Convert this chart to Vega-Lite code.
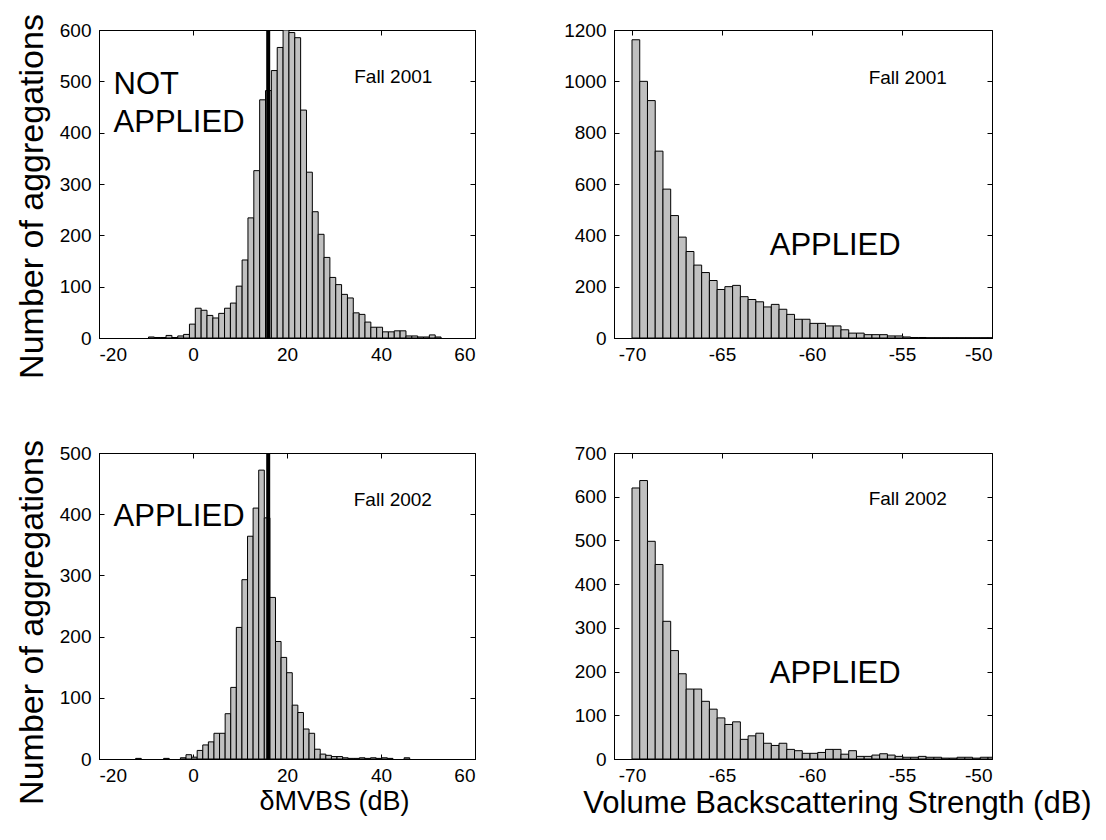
{
"$schema": "https://vega.github.io/schema/vega-lite/v6.json",
"background": "white",
"padding": {"left": 14, "top": 13, "right": 5, "bottom": 5},
"bounds": "flush",
"columns": 2,
"spacing": {"row": 115, "column": 139},
"config": {
  "font": "Liberation Sans",
  "view": {"stroke": "black", "strokeWidth": 1},
  "axis": {"labelFont": "Liberation Sans", "labelFontSize": 19, "labelColor": "black", "titleFont": "Liberation Sans", "titleFontSize": 34, "titleFontWeight": "normal", "titleColor": "black", "domainColor": "black", "tickColor": "black", "tickSize": -5, "grid": false},
  "axisX": {"labelPadding": 12},
  "axisY": {"labelPadding": 13}
},
"datasets": {
  "tl": [
    {"lo": -9.47, "hi": -8.225, "count": 2}, {"lo": -8.225, "hi": -6.98, "count": 1}, {"lo": -6.98, "hi": -5.735, "count": 1}, {"lo": -5.735, "hi": -4.49, "count": 5}, {"lo": -4.49, "hi": -3.245, "count": 1}, {"lo": -3.245, "hi": -2.0, "count": 4}, {"lo": -2.0, "hi": -0.755, "count": 7}, {"lo": -0.755, "hi": 0.49, "count": 27},
    {"lo": 0.49, "hi": 1.735, "count": 58}, {"lo": 1.735, "hi": 2.98, "count": 54}, {"lo": 2.98, "hi": 4.225, "count": 44}, {"lo": 4.225, "hi": 5.47, "count": 39}, {"lo": 5.47, "hi": 6.715, "count": 48}, {"lo": 6.715, "hi": 7.96, "count": 58}, {"lo": 7.96, "hi": 9.205, "count": 68}, {"lo": 9.205, "hi": 10.45, "count": 101},
    {"lo": 10.45, "hi": 11.695, "count": 152}, {"lo": 11.695, "hi": 12.94, "count": 234}, {"lo": 12.94, "hi": 14.185, "count": 326}, {"lo": 14.185, "hi": 15.43, "count": 464}, {"lo": 15.43, "hi": 16.675, "count": 482}, {"lo": 16.675, "hi": 17.92, "count": 521}, {"lo": 17.92, "hi": 19.165, "count": 566}, {"lo": 19.165, "hi": 20.41, "count": 600},
    {"lo": 20.41, "hi": 21.655, "count": 595}, {"lo": 21.655, "hi": 22.9, "count": 585}, {"lo": 22.9, "hi": 24.145, "count": 444}, {"lo": 24.145, "hi": 25.39, "count": 323}, {"lo": 25.39, "hi": 26.635, "count": 246}, {"lo": 26.635, "hi": 27.88, "count": 202}, {"lo": 27.88, "hi": 29.125, "count": 157}, {"lo": 29.125, "hi": 30.37, "count": 118},
    {"lo": 30.37, "hi": 31.615, "count": 104}, {"lo": 31.615, "hi": 32.86, "count": 85}, {"lo": 32.86, "hi": 34.105, "count": 78}, {"lo": 34.105, "hi": 35.35, "count": 49}, {"lo": 35.35, "hi": 36.595, "count": 46}, {"lo": 36.595, "hi": 37.84, "count": 31}, {"lo": 37.84, "hi": 39.085, "count": 21}, {"lo": 39.085, "hi": 40.33, "count": 21},
    {"lo": 40.33, "hi": 41.575, "count": 12}, {"lo": 41.575, "hi": 42.82, "count": 12}, {"lo": 42.82, "hi": 44.065, "count": 14}, {"lo": 44.065, "hi": 45.31, "count": 14}, {"lo": 45.31, "hi": 46.555, "count": 4}, {"lo": 46.555, "hi": 47.8, "count": 4}, {"lo": 47.8, "hi": 49.045, "count": 2}, {"lo": 49.045, "hi": 50.29, "count": 2},
    {"lo": 50.29, "hi": 51.535, "count": 6}, {"lo": 51.535, "hi": 52.78, "count": 2}
  ],
  "tr": [
    {"lo": -70, "hi": -69.57, "count": 1162}, {"lo": -69.57, "hi": -69.14, "count": 1000}, {"lo": -69.14, "hi": -68.71, "count": 925}, {"lo": -68.71, "hi": -68.28, "count": 728}, {"lo": -68.28, "hi": -67.85, "count": 580}, {"lo": -67.85, "hi": -67.42, "count": 477}, {"lo": -67.42, "hi": -66.99, "count": 393}, {"lo": -66.99, "hi": -66.56, "count": 337},
    {"lo": -66.56, "hi": -66.13, "count": 284}, {"lo": -66.13, "hi": -65.7, "count": 255}, {"lo": -65.7, "hi": -65.27, "count": 224}, {"lo": -65.27, "hi": -64.84, "count": 189}, {"lo": -64.84, "hi": -64.41, "count": 200}, {"lo": -64.41, "hi": -63.98, "count": 205}, {"lo": -63.98, "hi": -63.55, "count": 161}, {"lo": -63.55, "hi": -63.12, "count": 150},
    {"lo": -63.12, "hi": -62.69, "count": 141}, {"lo": -62.69, "hi": -62.26, "count": 121}, {"lo": -62.26, "hi": -61.83, "count": 131}, {"lo": -61.83, "hi": -61.4, "count": 112}, {"lo": -61.4, "hi": -60.97, "count": 92}, {"lo": -60.97, "hi": -60.54, "count": 73}, {"lo": -60.54, "hi": -60.11, "count": 73}, {"lo": -60.11, "hi": -59.68, "count": 57},
    {"lo": -59.68, "hi": -59.25, "count": 57}, {"lo": -59.25, "hi": -58.82, "count": 47}, {"lo": -58.82, "hi": -58.39, "count": 47}, {"lo": -58.39, "hi": -57.96, "count": 32}, {"lo": -57.96, "hi": -57.53, "count": 19}, {"lo": -57.53, "hi": -57.1, "count": 19}, {"lo": -57.1, "hi": -56.67, "count": 13}, {"lo": -56.67, "hi": -56.24, "count": 13},
    {"lo": -56.24, "hi": -55.81, "count": 13}, {"lo": -55.81, "hi": -55.38, "count": 8}, {"lo": -55.38, "hi": -54.95, "count": 8}, {"lo": -54.95, "hi": -54.52, "count": 4}, {"lo": -54.52, "hi": -54.09, "count": 2}, {"lo": -54.09, "hi": -53.66, "count": 2}, {"lo": -53.66, "hi": -53.23, "count": 1}, {"lo": -53.23, "hi": -52.8, "count": 1},
    {"lo": -52.8, "hi": -52.37, "count": 1}, {"lo": -52.37, "hi": -51.94, "count": 1}, {"lo": -51.94, "hi": -51.51, "count": 1}, {"lo": -51.51, "hi": -51.08, "count": 1}, {"lo": -51.08, "hi": -50.65, "count": 1}, {"lo": -50.65, "hi": -50.22, "count": 1}, {"lo": -50.22, "hi": -49.79, "count": 1}
  ],
  "bl": [
    {"lo": -12.2, "hi": -11.01, "count": 1}, {"lo": -6.25, "hi": -5.06, "count": 1}, {"lo": -2.68, "hi": -1.49, "count": 2},
    {"lo": -1.49, "hi": -0.3, "count": 7}, {"lo": -0.3, "hi": 0.89, "count": 3}, {"lo": 0.89, "hi": 2.08, "count": 14}, {"lo": 2.08, "hi": 3.27, "count": 23}, {"lo": 3.27, "hi": 4.46, "count": 28}, {"lo": 4.46, "hi": 5.65, "count": 42}, {"lo": 5.65, "hi": 6.84, "count": 42}, {"lo": 6.84, "hi": 8.03, "count": 74},
    {"lo": 8.03, "hi": 9.22, "count": 117}, {"lo": 9.22, "hi": 10.41, "count": 215}, {"lo": 10.41, "hi": 11.6, "count": 293}, {"lo": 11.6, "hi": 12.79, "count": 364}, {"lo": 12.79, "hi": 13.98, "count": 410}, {"lo": 13.98, "hi": 15.17, "count": 472}, {"lo": 15.17, "hi": 16.36, "count": 394}, {"lo": 16.36, "hi": 17.55, "count": 264},
    {"lo": 17.55, "hi": 18.74, "count": 192}, {"lo": 18.74, "hi": 19.93, "count": 166}, {"lo": 19.93, "hi": 21.12, "count": 141}, {"lo": 21.12, "hi": 22.31, "count": 88}, {"lo": 22.31, "hi": 23.5, "count": 76}, {"lo": 23.5, "hi": 24.69, "count": 49}, {"lo": 24.69, "hi": 25.88, "count": 42}, {"lo": 25.88, "hi": 27.07, "count": 16},
    {"lo": 27.07, "hi": 28.26, "count": 8}, {"lo": 28.26, "hi": 29.45, "count": 6}, {"lo": 29.45, "hi": 30.64, "count": 4}, {"lo": 30.64, "hi": 31.83, "count": 4}, {"lo": 31.83, "hi": 33.02, "count": 2}, {"lo": 33.02, "hi": 34.21, "count": 1}, {"lo": 34.21, "hi": 35.4, "count": 1}, {"lo": 35.4, "hi": 36.59, "count": 2},
    {"lo": 36.59, "hi": 37.78, "count": 1}, {"lo": 37.78, "hi": 38.97, "count": 2}, {"lo": 38.97, "hi": 40.16, "count": 1}, {"lo": 40.16, "hi": 41.35, "count": 2}, {"lo": 41.35, "hi": 42.54, "count": 1}, {"lo": 44.92, "hi": 46.11, "count": 2}
  ],
  "br": [
    {"lo": -70, "hi": -69.57, "count": 620}, {"lo": -69.57, "hi": -69.14, "count": 637}, {"lo": -69.14, "hi": -68.71, "count": 498}, {"lo": -68.71, "hi": -68.28, "count": 445}, {"lo": -68.28, "hi": -67.85, "count": 315}, {"lo": -67.85, "hi": -67.42, "count": 248}, {"lo": -67.42, "hi": -66.99, "count": 195}, {"lo": -66.99, "hi": -66.56, "count": 160},
    {"lo": -66.56, "hi": -66.13, "count": 160}, {"lo": -66.13, "hi": -65.7, "count": 132}, {"lo": -65.7, "hi": -65.27, "count": 114}, {"lo": -65.27, "hi": -64.84, "count": 94}, {"lo": -64.84, "hi": -64.41, "count": 79}, {"lo": -64.41, "hi": -63.98, "count": 85}, {"lo": -63.98, "hi": -63.55, "count": 45}, {"lo": -63.55, "hi": -63.12, "count": 53},
    {"lo": -63.12, "hi": -62.69, "count": 59}, {"lo": -62.69, "hi": -62.26, "count": 36}, {"lo": -62.26, "hi": -61.83, "count": 31}, {"lo": -61.83, "hi": -61.4, "count": 36}, {"lo": -61.4, "hi": -60.97, "count": 22}, {"lo": -60.97, "hi": -60.54, "count": 19}, {"lo": -60.54, "hi": -60.11, "count": 13}, {"lo": -60.11, "hi": -59.68, "count": 13},
    {"lo": -59.68, "hi": -59.25, "count": 15}, {"lo": -59.25, "hi": -58.82, "count": 22}, {"lo": -58.82, "hi": -58.39, "count": 22}, {"lo": -58.39, "hi": -57.96, "count": 11}, {"lo": -57.96, "hi": -57.53, "count": 19}, {"lo": -57.53, "hi": -57.1, "count": 6}, {"lo": -57.1, "hi": -56.67, "count": 6}, {"lo": -56.67, "hi": -56.24, "count": 9},
    {"lo": -56.24, "hi": -55.81, "count": 12}, {"lo": -55.81, "hi": -55.38, "count": 9}, {"lo": -55.38, "hi": -54.95, "count": 6}, {"lo": -54.95, "hi": -54.52, "count": 4}, {"lo": -54.52, "hi": -54.09, "count": 4}, {"lo": -54.09, "hi": -53.66, "count": 6}, {"lo": -53.66, "hi": -53.23, "count": 4}, {"lo": -53.23, "hi": -52.8, "count": 4},
    {"lo": -52.8, "hi": -52.37, "count": 2}, {"lo": -52.37, "hi": -51.94, "count": 2}, {"lo": -51.94, "hi": -51.51, "count": 4}, {"lo": -51.51, "hi": -51.08, "count": 4}, {"lo": -51.08, "hi": -50.65, "count": 2}, {"lo": -50.65, "hi": -50.22, "count": 4}, {"lo": -50.22, "hi": -49.79, "count": 4}
  ]
},
"concat": [
  {
    "width": 376, "height": 308,
    "resolve": {"axis": {"x": "independent", "y": "independent"}},
    "layer": [
      {"data": {"name": "tl"}, "mark": {"type": "bar", "fill": "#c0c0c0", "stroke": "black", "strokeWidth": 1, "clip": true},
       "encoding": {
         "x": {"field": "lo", "type": "quantitative", "scale": {"domain": [-20, 60], "nice": false, "zero": false}, "axis": {"orient": "bottom", "values": [-20, 0, 20, 40, 60], "labelExpr": "'' + datum.value", "title": null}},
         "x2": {"field": "hi"},
         "y": {"field": "count", "type": "quantitative", "scale": {"domain": [0, 600], "nice": false}, "axis": {"orient": "left", "values": [0, 100, 200, 300, 400, 500, 600], "labelExpr": "'' + datum.value", "title": "Number of aggregations", "titleX": -67, "titleY": 166, "titleBaseline": "middle"}},
         "y2": {"datum": 0}
       }},
      {"data": {"values": [{"v": 16}]}, "mark": {"type": "rule", "color": "black", "strokeWidth": 4},
       "encoding": {"x": {"field": "v", "type": "quantitative", "axis": null}}},
      {"data": {"values": [{"tx": 34.3, "ty": 508, "label": "Fall 2001"}]}, "mark": {"type": "text", "align": "left", "baseline": "middle", "fontSize": 19, "color": "black"},
       "encoding": {
         "x": {"field": "tx", "type": "quantitative", "axis": {"orient": "top", "labels": false, "title": null, "domain": false, "values": [-20, 0, 20, 40, 60]}},
         "y": {"field": "ty", "type": "quantitative", "axis": {"orient": "right", "labels": false, "title": null, "domain": false, "values": [0, 100, 200, 300, 400, 500, 600]}},
         "text": {"field": "label"}
       }},
      {"data": {"values": [{"tx": -16.9, "ty": 492, "label": "NOT"}, {"tx": -16.9, "ty": 418, "label": "APPLIED"}]}, "mark": {"type": "text", "align": "left", "baseline": "middle", "fontSize": 31, "color": "black"},
       "encoding": {
         "x": {"field": "tx", "type": "quantitative", "axis": null},
         "y": {"field": "ty", "type": "quantitative", "axis": null},
         "text": {"field": "label"}
       }}
    ]
  },
  {
    "width": 378, "height": 308,
    "resolve": {"axis": {"x": "independent", "y": "independent"}},
    "layer": [
      {"data": {"name": "tr"}, "mark": {"type": "bar", "fill": "#c0c0c0", "stroke": "black", "strokeWidth": 1, "clip": true},
       "encoding": {
         "x": {"field": "lo", "type": "quantitative", "scale": {"domain": [-71, -50], "nice": false, "zero": false}, "axis": {"orient": "bottom", "values": [-70, -65, -60, -55, -50], "labelExpr": "'' + datum.value", "title": null}},
         "x2": {"field": "hi"},
         "y": {"field": "count", "type": "quantitative", "scale": {"domain": [0, 1200], "nice": false}, "axis": {"orient": "left", "values": [0, 200, 400, 600, 800, 1000, 1200], "labelExpr": "'' + datum.value", "title": null}},
         "y2": {"datum": 0}
       }},
      {"data": {"values": [{"tx": -56.85, "ty": 1012, "label": "Fall 2001"}]}, "mark": {"type": "text", "align": "left", "baseline": "middle", "fontSize": 19, "color": "black"},
       "encoding": {
         "x": {"field": "tx", "type": "quantitative", "axis": {"orient": "top", "labels": false, "title": null, "domain": false, "values": [-70, -65, -60, -55, -50]}},
         "y": {"field": "ty", "type": "quantitative", "axis": {"orient": "right", "labels": false, "title": null, "domain": false, "values": [0, 200, 400, 600, 800, 1000, 1200]}},
         "text": {"field": "label"}
       }},
      {"data": {"values": [{"tx": -62.35, "ty": 357, "label": "APPLIED"}]}, "mark": {"type": "text", "align": "left", "baseline": "middle", "fontSize": 31, "color": "black"},
       "encoding": {
         "x": {"field": "tx", "type": "quantitative", "axis": null},
         "y": {"field": "ty", "type": "quantitative", "axis": null},
         "text": {"field": "label"}
       }}
    ]
  },
  {
    "width": 376, "height": 306,
    "resolve": {"axis": {"x": "independent", "y": "independent"}},
    "layer": [
      {"data": {"name": "bl"}, "mark": {"type": "bar", "fill": "#c0c0c0", "stroke": "black", "strokeWidth": 1, "clip": true},
       "encoding": {
         "x": {"field": "lo", "type": "quantitative", "scale": {"domain": [-20, 60], "nice": false, "zero": false}, "axis": {"orient": "bottom", "values": [-20, 0, 20, 40, 60], "labelExpr": "'' + datum.value", "title": "δMVBS (dB)", "titleX": 235, "titleY": 29, "titleBaseline": "top", "titleFontSize": 27}},
         "x2": {"field": "hi"},
         "y": {"field": "count", "type": "quantitative", "scale": {"domain": [0, 500], "nice": false}, "axis": {"orient": "left", "values": [0, 100, 200, 300, 400, 500], "labelExpr": "'' + datum.value", "title": "Number of aggregations", "titleX": -67, "titleY": 169, "titleBaseline": "middle"}},
         "y2": {"datum": 0}
       }},
      {"data": {"values": [{"v": 16}]}, "mark": {"type": "rule", "color": "black", "strokeWidth": 4},
       "encoding": {"x": {"field": "v", "type": "quantitative", "axis": null}}},
      {"data": {"values": [{"tx": 34.2, "ty": 423, "label": "Fall 2002"}]}, "mark": {"type": "text", "align": "left", "baseline": "middle", "fontSize": 19, "color": "black"},
       "encoding": {
         "x": {"field": "tx", "type": "quantitative", "axis": {"orient": "top", "labels": false, "title": null, "domain": false, "values": [-20, 0, 20, 40, 60]}},
         "y": {"field": "ty", "type": "quantitative", "axis": {"orient": "right", "labels": false, "title": null, "domain": false, "values": [0, 100, 200, 300, 400, 500]}},
         "text": {"field": "label"}
       }},
      {"data": {"values": [{"tx": -16.9, "ty": 396, "label": "APPLIED"}]}, "mark": {"type": "text", "align": "left", "baseline": "middle", "fontSize": 31, "color": "black"},
       "encoding": {
         "x": {"field": "tx", "type": "quantitative", "axis": null},
         "y": {"field": "ty", "type": "quantitative", "axis": null},
         "text": {"field": "label"}
       }}
    ]
  },
  {
    "width": 378, "height": 306,
    "resolve": {"axis": {"x": "independent", "y": "independent"}},
    "layer": [
      {"data": {"name": "br"}, "mark": {"type": "bar", "fill": "#c0c0c0", "stroke": "black", "strokeWidth": 1, "clip": true},
       "encoding": {
         "x": {"field": "lo", "type": "quantitative", "scale": {"domain": [-71, -50], "nice": false, "zero": false}, "axis": {"orient": "bottom", "values": [-70, -65, -60, -55, -50], "labelExpr": "'' + datum.value", "title": "Volume Backscattering Strength (dB)", "titleX": 223, "titleY": 29, "titleBaseline": "top", "titleFontSize": 31}},
         "x2": {"field": "hi"},
         "y": {"field": "count", "type": "quantitative", "scale": {"domain": [0, 700], "nice": false}, "axis": {"orient": "left", "values": [0, 100, 200, 300, 400, 500, 600, 700], "labelExpr": "'' + datum.value", "title": null}},
         "y2": {"datum": 0}
       }},
      {"data": {"values": [{"tx": -56.85, "ty": 594, "label": "Fall 2002"}]}, "mark": {"type": "text", "align": "left", "baseline": "middle", "fontSize": 19, "color": "black"},
       "encoding": {
         "x": {"field": "tx", "type": "quantitative", "axis": {"orient": "top", "labels": false, "title": null, "domain": false, "values": [-70, -65, -60, -55, -50]}},
         "y": {"field": "ty", "type": "quantitative", "axis": {"orient": "right", "labels": false, "title": null, "domain": false, "values": [0, 100, 200, 300, 400, 500, 600, 700]}},
         "text": {"field": "label"}
       }},
      {"data": {"values": [{"tx": -62.35, "ty": 195, "label": "APPLIED"}]}, "mark": {"type": "text", "align": "left", "baseline": "middle", "fontSize": 31, "color": "black"},
       "encoding": {
         "x": {"field": "tx", "type": "quantitative", "axis": null},
         "y": {"field": "ty", "type": "quantitative", "axis": null},
         "text": {"field": "label"}
       }}
    ]
  }
]
}
